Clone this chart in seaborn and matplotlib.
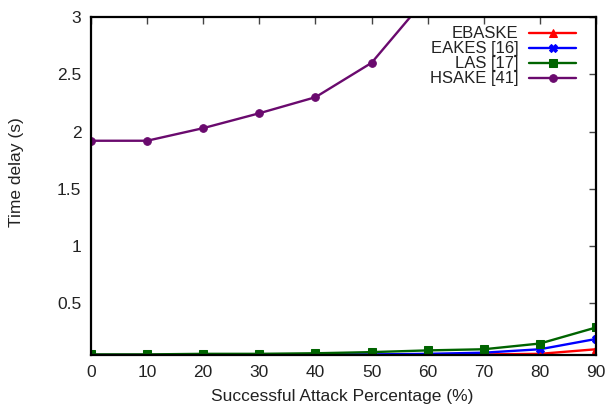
import matplotlib
matplotlib.use("Agg")
import matplotlib.pyplot as plt
import seaborn as sns
import pandas as pd

attack_pct = [0, 10, 20, 30, 40, 50, 60, 70, 80, 90]
ebaske = [0.05, 0.05, 0.05, 0.05, 0.05, 0.05, 0.05, 0.055, 0.06, 0.10]
eakes = [0.05, 0.05, 0.05, 0.05, 0.055, 0.055, 0.06, 0.07, 0.10, 0.19]
las = [0.055, 0.055, 0.06, 0.06, 0.065, 0.075, 0.09, 0.10, 0.15, 0.29]
hsake = [1.92, 1.92, 2.03, 2.16, 2.30, 2.60, 3.18, 3.60, 4.10, 4.60]

series_names = ["EBASKE", "EAKES [16]", "LAS [17]", "HSAKE [41]"]
series_values = [ebaske, eakes, las, hsake]
colors = ["#ff0000", "#0000ff", "#006400", "#6a0a6e"]
markers = ["^", "X", "s", "o"]
marker_sizes = [5.5, 5.5, 6, 5.5]

sns.set_style("white")
plt.rcParams["font.family"] = ["Liberation Sans", "DejaVu Sans"]

fig = plt.figure(figsize=(6.09, 4.11), dpi=100)
ax = fig.add_axes([0.1494, 0.1363, 0.8293, 0.8223])

for name, vals, c, m, ms in zip(series_names, series_values, colors, markers, marker_sizes):
    df = pd.DataFrame({"pct": attack_pct, "delay": vals})
    sns.lineplot(data=df, x="pct", y="delay", ax=ax, color=c, marker=m,
                 markersize=ms, markeredgecolor=c, linewidth=1.7, label=name)

ax.set_xlim(0, 90)
ax.set_ylim(0.05, 3)
ax.set_xticks(attack_pct)
ax.set_yticks([0.5, 1, 1.5, 2, 2.5, 3])
ax.set_yticklabels(["0.5", "1", "1.5", "2", "2.5", "3"])
ax.set_xlabel("Successful Attack Percentage (%)", fontsize=12.5, color="#222222")
ax.set_ylabel("Time delay (s)", fontsize=12.5, color="#222222")
ax.xaxis.set_label_coords(0.497, -0.10)
ax.yaxis.set_label_coords(-0.132, 0.54)
ax.tick_params(direction="in", top=True, right=True, length=5, width=1,
               labelsize=12.5, labelcolor="#222222", color="#444444", pad=7)
for sp in ax.spines.values():
    sp.set_visible(True)
    sp.set_color("black")
    sp.set_linewidth(1.6)

leg = ax.legend(loc="upper right", bbox_to_anchor=(0.9737, 0.992),
                frameon=False, markerfirst=False, fontsize=12,
                handlelength=2.8, handletextpad=0.65, labelspacing=0.0,
                borderaxespad=0.0)
for t in leg.get_texts():
    t.set_ha("right")
    t.set_color("#222222")

fig.savefig("out.png", dpi=100, facecolor="white")
